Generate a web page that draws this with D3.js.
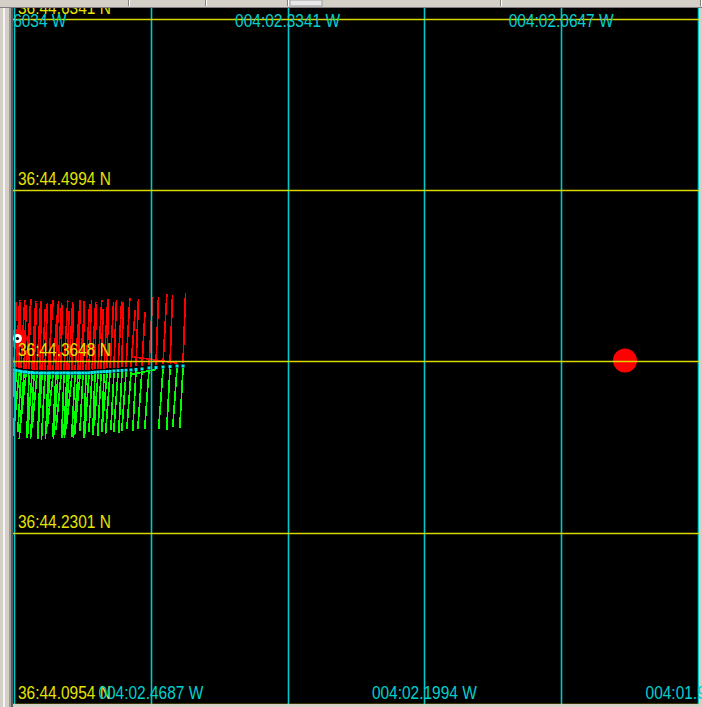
<!DOCTYPE html>
<html><head><meta charset="utf-8">
<script src="https://cdn.jsdelivr.net/npm/d3@7"></script>
<style>html,body{margin:0;padding:0;background:#000;overflow:hidden}svg{display:block}</style>
</head><body>
<script>
// ---- data (minutes of arc; lat = 36°xx', lon = 004°xx' W) ----
const latTickValues = [44.6341, 44.4994, 44.3648, 44.2301, 44.0954];
const latTickLabels = ["36:44.6341 N", "36:44.4994 N", "36:44.3648 N", "36:44.2301 N", "36:44.0954 N"];
const lonTickValues = [2.6034, 2.4687, 2.3341, 2.1994, 2.0647, 1.9300];
const lonTickLabels = ["004:02.6034 W", "004:02.4687 W", "004:02.3341 W", "004:02.1994 W", "004:02.0647 W", "004:01.9300 W"];

const trackLon = [2.6034,2.6014,2.5985,2.5965,2.5936,2.5916,2.5886,2.5857,2.5837,2.5808,
                  2.5778,2.5758,2.5729,2.5699,2.5680,2.5650,2.5621,2.5601,2.5571,2.5542,
                  2.5512,2.5493,2.5463,2.5433,2.5404,2.5384,2.5355,2.5325,2.5296,2.5266,
                  2.5237,2.5207,2.5177,2.5148,2.5118,2.5089,2.5050,2.5010,2.4971,2.4931,
                  2.4882,2.4833,2.4774,2.4705,2.4636,2.4567,2.4498,2.4429,2.4370];
const trackLat = [44.3581,44.3577,44.3573,44.3569,44.3565,44.3565,44.3561,44.3561,44.3557,44.3558,
                  44.3556,44.3557,44.3557,44.3556,44.3557,44.3558,44.3556,44.3557,44.3557,44.3558,
                  44.3557,44.3556,44.3557,44.3558,44.3557,44.3557,44.3558,44.3557,44.3558,44.3561,
                  44.3563,44.3565,44.3566,44.3568,44.3569,44.3570,44.3573,44.3575,44.3577,44.3579,
                  44.3581,44.3585,44.3589,44.3597,44.3600,44.3604,44.3608,44.3612,44.3612];
// red vectors (speed kn, bearing °T)
const redSpeed = [13.6,14.2,13.8,14.4,13.5,14.6,13.2,14.3,14.0,13.7,
                  14.5,12.9,14.1,14.6,13.8,11.6,14.4,14.0,13.6,14.5,
                  12.4,14.3,13.9,14.6,14.2,11.9,14.4,13.8,14.5,14.1,
                  13.7,14.4,12.6,14.2,14.5,13.9,14.3,14.0,13.6,14.4,
                  12.0,14.1,11.4,14.3,14.2,14.6,14.4,8.8,14.6];
const redDir   = [2,3,1,3,2,4,1,3,2,3,1,3,2,4,1,4,2,3,1,3,
                  2,3,1,4,2,4,1,3,2,3,1,3,2,3,1,3,2,3,1,3,
                  4,2,3,3,2,3,2,282,2];
// green vectors (speed kn, bearing °T)
const greenSpeed = [13.2,12.6,13.0,12.2,13.4,11.8,13.2,12.9,13.3,11.0,
                    13.1,12.5,13.4,12.0,13.2,10.8,12.7,13.3,11.5,13.0,
                    12.4,13.1,11.2,12.8,13.0,12.2,11.6,13.1,12.3,11.9,
                    12.6,10.9,12.8,12.0,11.4,12.5,11.8,12.3,12.6,12.1,
                    11.8,12.4,12.0,12.2,5.4,12.5,12.7,12.3,12.4];
const greenDir   = [183,182,185,183,184,186,182,184,183,185,182,184,183,182,184,186,183,184,185,182,
                    183,184,186,183,184,185,183,182,184,183,182,184,183,182,185,184,183,184,183,184,
                    184,183,184,184,255,184,183,184,183];
// markers
const vesselLon = [2.0019], vesselLat = [44.3655];
const startLon = [2.6000], startLat = [44.3828];

// ---- drawing ----
const W = 702, H = 707;
const svg = d3.select("body").append("svg").attr("width", W).attr("height", H);
const x = d3.scaleLinear().domain([2.6034, 1.9300]).range([14, 698]).interpolate(d3.interpolateRound);
const y = d3.scaleLinear().domain([44.6341, 44.0954]).range([19, 704]).interpolate(d3.interpolateRound);
const xf = d3.scaleLinear().domain([2.6034, 1.9300]).range([14, 698]);
const yf = d3.scaleLinear().domain([44.6341, 44.0954]).range([19, 704]);
const vec = d3.scaleLinear().domain([0, 1]).range([0, 5]); // px per knot

svg.append("rect").attr("width", W).attr("height", H).attr("fill", "#000");
const defs = svg.append("defs");
defs.append("clipPath").attr("id", "plot").append("rect")
  .attr("x", 13).attr("y", 8).attr("width", 686).attr("height", 696);
defs.append("clipPath").attr("id", "txt").append("rect")
  .attr("x", 13).attr("y", 8).attr("width", 689).attr("height", 696);

const g = svg.append("g").attr("clip-path", "url(#plot)");
const pts = trackLon.map((lon, i) => ({lon, lat: trackLat[i], rs: redSpeed[i], rd: redDir[i], gs: greenSpeed[i], gd: greenDir[i]}));
const endX = (d, s, b) => xf(d.lon) + vec(s) * Math.sin(b * Math.PI / 180);
const endY = (d, s, b) => yf(d.lat) - vec(s) * Math.cos(b * Math.PI / 180);

g.append("g").selectAll("line").data(pts).join("line")
  .attr("x1", d => xf(d.lon)).attr("y1", d => yf(d.lat) - 3)
  .attr("x2", d => endX(d, d.rs, d.rd)).attr("y2", d => endY(d, d.rs, d.rd))
  .attr("stroke", "#ff0000").attr("stroke-width", 1.7).attr("shape-rendering", "crispEdges");
g.append("g").selectAll("line").data(pts).join("line")
  .attr("x1", d => xf(d.lon)).attr("y1", d => yf(d.lat) + 2)
  .attr("x2", d => endX(d, d.gs, d.gd)).attr("y2", d => endY(d, d.gs, d.gd))
  .attr("stroke", "#00ff00").attr("stroke-width", 1.7).attr("shape-rendering", "crispEdges");
g.append("g").selectAll("rect").data(pts).join("rect")
  .attr("x", d => xf(d.lon) - 1.5).attr("y", d => yf(d.lat) - 1.5)
  .attr("width", 3).attr("height", 3).attr("fill", "#00e8e8");

// start marker
g.append("circle").attr("cx", xf(startLon[0])).attr("cy", yf(startLat[0])).attr("r", 9.5).attr("fill", "#ff0000");
g.append("circle").attr("cx", xf(startLon[0])).attr("cy", yf(startLat[0])).attr("r", 4.5).attr("fill", "#ffffff");
g.append("circle").attr("cx", xf(startLon[0])).attr("cy", yf(startLat[0])).attr("r", 1.6).attr("fill", "#000");
// vessel
g.append("circle").attr("cx", xf(vesselLon[0])).attr("cy", yf(vesselLat[0])).attr("r", 12).attr("fill", "#ff0000");

// grid via axes
const gx = g.append("g").attr("transform", "translate(0,8)")
  .call(d3.axisBottom(x).tickValues(lonTickValues).tickSize(700).tickFormat(""));
gx.select(".domain").remove();
gx.selectAll("line").attr("stroke", "#00c8c8").attr("stroke-width", 1.6);
const gy = g.append("g").attr("transform", "translate(13,0)")
  .call(d3.axisRight(y).tickValues(latTickValues).tickSize(690).tickFormat(""));
gy.select(".domain").remove();
gy.selectAll("line").attr("stroke", "#d8d800").attr("stroke-width", 1.6);

// frame (window chrome)
svg.append("rect").attr("x", 0).attr("y", 0).attr("width", 13).attr("height", H).attr("fill", "#d4d0c8");
svg.append("rect").attr("x", 3).attr("y", 0).attr("width", 2).attr("height", H).attr("fill", "#f4f4f4");
svg.append("rect").attr("x", 9).attr("y", 0).attr("width", 2).attr("height", H).attr("fill", "#9a9a9a");
svg.append("rect").attr("x", 11).attr("y", 0).attr("width", 2).attr("height", H).attr("fill", "#5a5a5a");
svg.append("rect").attr("x", 0).attr("y", 0).attr("width", W).attr("height", 8).attr("fill", "#d4d0c8");
svg.append("rect").attr("x", 0).attr("y", 7).attr("width", W).attr("height", 1).attr("fill", "#808080");
[128, 205, 287, 500, 700].forEach(sx => {
  svg.append("rect").attr("x", sx).attr("y", 0).attr("width", 1).attr("height", 6).attr("fill", "#808080");
  svg.append("rect").attr("x", sx + 1).attr("y", 0).attr("width", 1).attr("height", 6).attr("fill", "#ffffff");
});
svg.append("rect").attr("x", 290).attr("y", 0).attr("width", 32).attr("height", 6).attr("fill", "#e8e8e8").attr("stroke", "#a0a0a0");
svg.append("rect").attr("x", 699).attr("y", 8).attr("width", 3).attr("height", 696).attr("fill", "#d4d0c8");
svg.append("rect").attr("x", 13).attr("y", 704).attr("width", W).attr("height", 3).attr("fill", "#d4d0c8");

// labels
const t = svg.append("g").attr("clip-path", "url(#txt)")
  .attr("font-family", "'Liberation Sans', Arial, sans-serif").attr("font-size", 18);
t.selectAll("text.lat").data(latTickValues).join("text").attr("class", "lat")
  .attr("transform", d => `translate(18,${yf(d) - 5}) scale(0.86,1)`)
  .attr("fill", "#e4e400").text((d, i) => latTickLabels[i]);
t.selectAll("text.lon").data(lonTickValues).join("text").attr("class", "lon")
  .attr("transform", (d, i) => `translate(${xf(d)},${i % 2 === 0 ? 27 : 699}) scale(0.86,1)`)
  .attr("text-anchor", "middle").attr("fill", "#00d0d0").text((d, i) => lonTickLabels[i]);
</script>
</body></html>
